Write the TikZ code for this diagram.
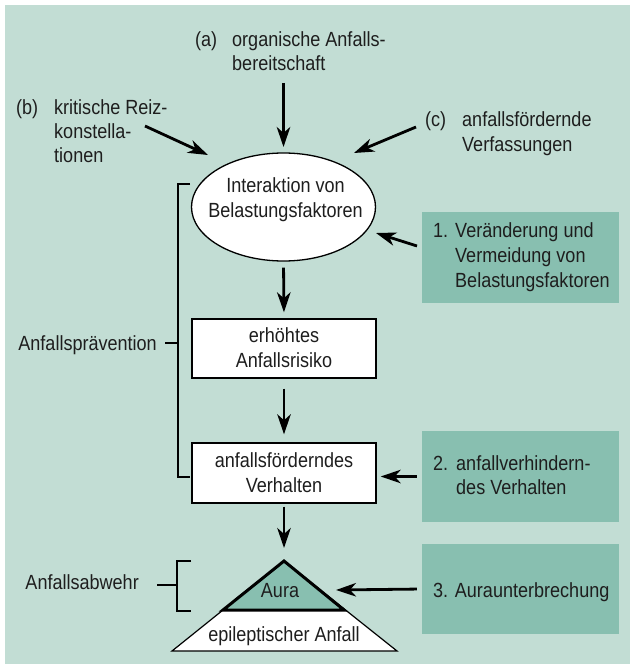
\documentclass[tikz,border=0pt]{standalone}
\usepackage{fontspec}
\setmainfont{Liberation Sans}[FakeStretch=0.88]
\usetikzlibrary{arrows.meta,shapes.geometric}
\definecolor{bgc}{HTML}{C2DDD4}
\definecolor{dgc}{HTML}{88BFB0}
\definecolor{txt}{HTML}{1E1E1E}
\newcommand\hangtxt[3]{\makebox[#1][l]{#2}\begin{tabular}[t]{@{}l@{}}#3\end{tabular}}
\newcommand\ctxt[1]{\begin{tabular}[t]{@{}c@{}}#1\end{tabular}}
\begin{document}
\begin{tikzpicture}[x=1pt,y=-1pt,
  every node/.style={font=\fontsize{20.5}{25}\selectfont, inner sep=0pt, text=txt},
  tight/.style={font=\fontsize{20.5}{24}\selectfont},
  arr/.style={line width=2.8pt, draw=black, -{Stealth[length=20pt,width=13.5pt,inset=6pt]}},
  wbox/.style={draw=black, line width=1.4pt, fill=white, minimum width=184pt, minimum height=59pt},
  gbox/.style={fill=dgc, minimum width=197pt, minimum height=91pt},
  brk/.style={line width=2.8pt, draw=black}
]
\useasboundingbox (0,0) rectangle (630,668);
\fill[bgc] (5,5) rectangle (630,664);

% main chain
\node[ellipse, draw=black, line width=1.3pt, fill=white, minimum width=184pt, minimum height=108pt] (ell) at (283.5,207) {};
\node[anchor=base] (elltxt) at (285.5,193) {\ctxt{Interaktion von\\Belastungsfaktoren}};
\node[wbox] (boxA) at (284,348.5) {};
\node[anchor=base] (boxAtxt) at (284,342) {\ctxt{erhöhtes\\Anfallsrisiko}};
\node[wbox, minimum height=60pt] (boxB) at (284,473) {};
\node[anchor=base] (boxBtxt) at (284,467) {\ctxt{anfallsförderndes\\Verhalten}};

% triangle
\coordinate (apex) at (284,561);
\coordinate (bl) at (172,651);
\coordinate (br) at (397,651);
\coordinate (al) at (223,610);
\coordinate (ar) at (344,610);
\draw[line width=1.2pt, fill=white, line join=miter] (apex) -- (bl) -- (br) -- cycle;
\draw[line width=3pt, fill=dgc, line join=miter] (apex) -- (al) -- (ar) -- cycle;
\node[anchor=base] (aura) at (280,597) {Aura};
\node[anchor=base] (epi) at (284,641.5) {epileptischer Anfall};

% top labels
\node[anchor=base west, tight] (la) at (195,47) {\hangtxt{37pt}{(a)}{organische Anfalls-\\bereitschaft}};
\node[anchor=base west, tight] (lb) at (16,115) {\hangtxt{38pt}{(b)}{kritische Reiz-\\konstella-\\tionen}};
\node[anchor=base west] (lc) at (425,127) {\hangtxt{37pt}{(c)}{anfallsfördernde\\Verfassungen}};

% green boxes
\node[gbox] (g1) at (520,257.5) {};
\node[anchor=base west] (g1t) at (433,237) {\hangtxt{22pt}{1.}{Veränderung und\\Vermeidung von\\Belastungsfaktoren}};
\node[gbox] (g2) at (520.5,476.5) {};
\node[anchor=base west, tight] (g2t) at (433,470) {\hangtxt{23pt}{2.}{anfallverhindern-\\des Verhalten}};
\node[gbox, minimum height=90pt] (g3) at (520.5,589) {};
\node[anchor=base west] (g3t) at (433,597) {3. Auraunterbrechung};

% side labels and brackets
\node[anchor=base east] (prev) at (157,350) {Anfallsprävention};
\node[anchor=base east] (abw) at (139,589) {Anfallsabwehr};
\coordinate (p1) at (190,184);
\coordinate (p2) at (178,184);
\coordinate (p3) at (178,477);
\coordinate (p4) at (190,477);
\coordinate (pt) at (165,343);
\draw[brk] (p1) -- (p2) -- (p3) -- (p4);
\draw[brk] (pt) -- (pt -| p2);
\coordinate (q1) at (191,561);
\coordinate (q2) at (177,561);
\coordinate (q3) at (177,611);
\coordinate (q4) at (191,611);
\coordinate (qt) at (157,585);
\draw[brk] (q1) -- (q2) -- (q3) -- (q4);
\draw[brk] (qt) -- (qt -| q2);

% arrows
\coordinate (as) at (283.5,83);
\coordinate (ae) at (283.5,147);
\coordinate (bs) at (145,126);
\coordinate (be) at (208,155);
\coordinate (cs) at (416,127);
\coordinate (ce) at (354,153);
\coordinate (s1) at (417,246);
\coordinate (e1) at (376,233);
\coordinate (e3) at (336,590);
\draw[arr] (as) -- (ae);
\draw[arr] (bs) -- (be);
\draw[arr] (cs) -- (ce);
\draw[arr] (s1) -- (e1);
\draw[arr, shorten <=6pt, shorten >=6pt] (ell.south) -- (boxA.north);
\draw[arr, shorten <=10pt, shorten >=8pt] (boxA.south) -- (boxB.north);
\draw[arr, shorten <=3pt, shorten >=13pt] (boxB.south) -- (apex);
\draw[arr, shorten <=5pt, shorten >=4pt] (g2.west) -- (g2.west -| boxB.east);
\draw[arr, shorten <=5pt] (g3.west) -- (e3);
\end{tikzpicture}
\end{document}
